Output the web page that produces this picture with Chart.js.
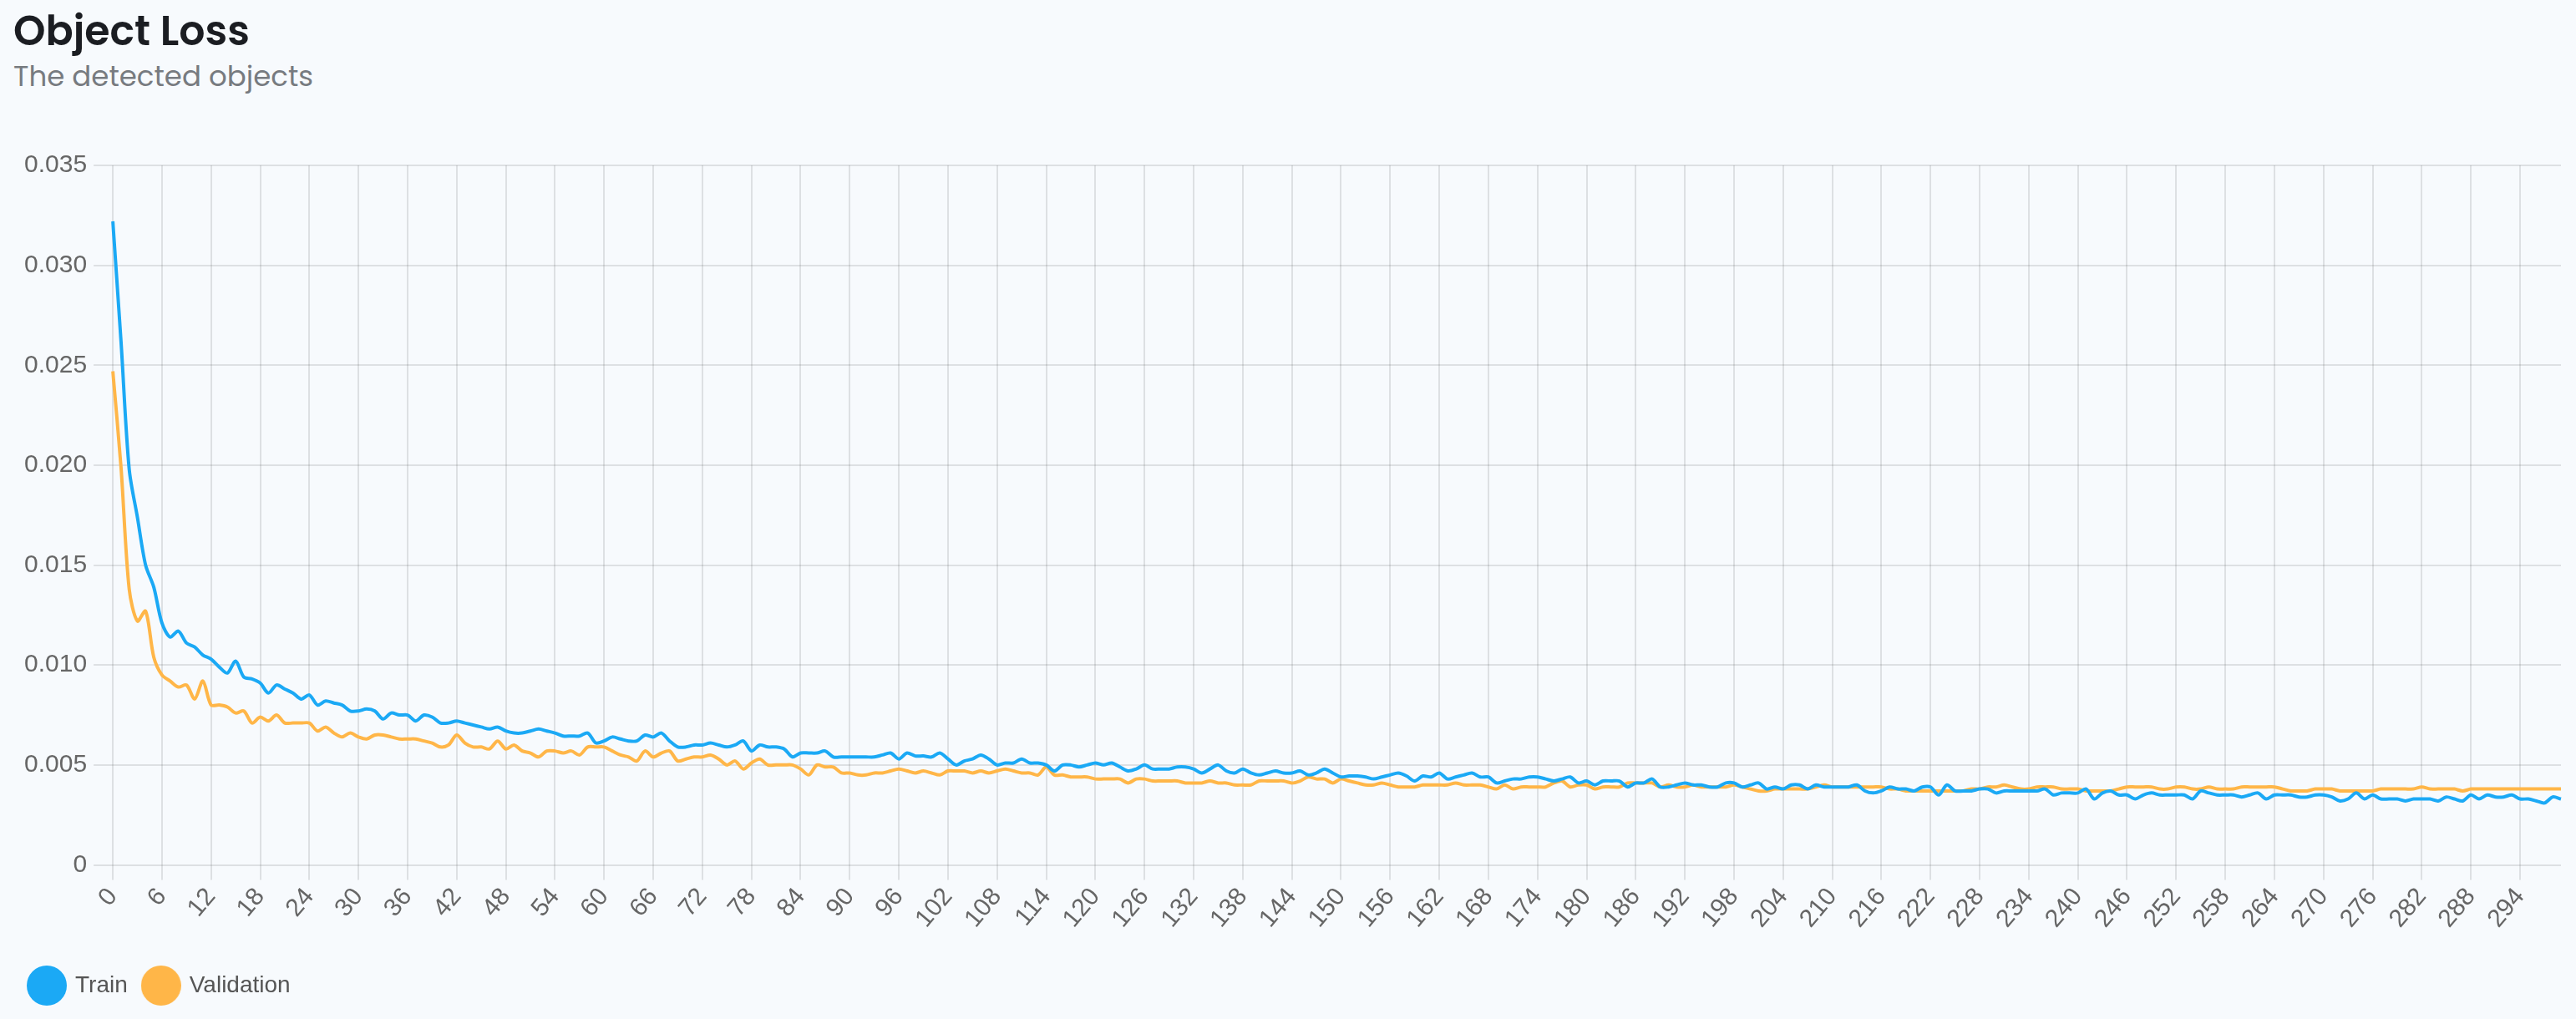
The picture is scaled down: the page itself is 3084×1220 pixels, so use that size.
<!DOCTYPE html>
<html>
<head>
<meta charset="utf-8">
<script src="https://cdn.jsdelivr.net/npm/chart.js@4.4.1/dist/chart.umd.min.js"></script>
<style>
  html, body { margin: 0; padding: 0; background: #f7fafd; }
  #head { position: absolute; left: 16px; top: 5px; font-family: 'Poppins', 'Inter', sans-serif; }
  #title { font-size: 49px; font-weight: 600; color: #1b1d22; line-height: 64px; }
  #subtitle { font-size: 34px; font-weight: 400; color: #777b80; line-height: 44px; }
  #wrap { position: absolute; left: 0; top: 0; width: 3084px; height: 1220px; }
</style>
</head>
<body>
<div id="head">
  <div id="title">Object Loss</div>
  <div id="subtitle">The detected objects</div>
</div>
<div id="wrap"><canvas id="my-chart"></canvas></div>
<script>
const trainLoss = [
  0.0322, 0.0262, 0.0198, 0.0174, 0.0150, 0.0139, 0.0121, 0.0114, 0.0117, 0.0111,
  0.0109, 0.0105, 0.0103, 0.0099, 0.0096, 0.0102, 0.0094, 0.0093, 0.0091, 0.0086,
  0.0090, 0.0088, 0.0086, 0.0083, 0.0085, 0.0080, 0.0082, 0.0081, 0.0080, 0.0077,
  0.0077, 0.0078, 0.0077, 0.0073, 0.0076, 0.0075, 0.0075, 0.0072, 0.0075, 0.0074,
  0.0071, 0.0071, 0.0072, 0.0071, 0.0070, 0.0069, 0.0068, 0.0069, 0.0067, 0.0066,
  0.0066, 0.0067, 0.0068, 0.0067, 0.0066, 0.00645, 0.00645, 0.00645, 0.0066, 0.0061,
  0.0062, 0.0064, 0.0063, 0.0062, 0.0062, 0.0065, 0.0064, 0.0066, 0.0062, 0.0059,
  0.0059, 0.0060, 0.0060, 0.0061, 0.0060, 0.0059, 0.0060, 0.0062, 0.0057, 0.0060,
  0.0059, 0.0059, 0.0058, 0.0054, 0.0056, 0.0056, 0.0056, 0.0057, 0.0054, 0.0054,
  0.0054, 0.0054, 0.0054, 0.0054, 0.0055, 0.0056, 0.0053, 0.0056, 0.00545, 0.00545,
  0.0054, 0.0056, 0.0053, 0.0050, 0.0052, 0.0053, 0.0055, 0.0053, 0.0050, 0.0051,
  0.0051, 0.0053, 0.0051, 0.0051, 0.0050, 0.0047, 0.0050, 0.0050, 0.0049, 0.0050,
  0.0051, 0.0050, 0.0051, 0.0049, 0.0047, 0.0048, 0.0050, 0.0048, 0.0048, 0.0048,
  0.0049, 0.0049, 0.0048, 0.0046, 0.0048, 0.0050, 0.0047, 0.0046, 0.0048, 0.0046,
  0.0045, 0.0046, 0.0047, 0.0046, 0.0046, 0.0047, 0.0045, 0.0046, 0.0048, 0.0046,
  0.0044, 0.00445, 0.00445, 0.0044, 0.0043, 0.0044, 0.0045, 0.0046, 0.00445, 0.0042,
  0.00445, 0.0044, 0.0046, 0.0043, 0.0044, 0.0045, 0.0046, 0.0044, 0.0044, 0.0041,
  0.0042, 0.0043, 0.0043, 0.0044, 0.0044, 0.0043, 0.0042, 0.0043, 0.0044, 0.0041,
  0.0042, 0.0040, 0.0042, 0.0042, 0.0042, 0.0039, 0.0041, 0.0041, 0.0043, 0.0039,
  0.0039, 0.0040, 0.0041, 0.0040, 0.0040, 0.0039, 0.0039, 0.0041, 0.0041, 0.0039,
  0.0040, 0.0041, 0.0038, 0.0039, 0.0038, 0.0040, 0.0040, 0.0038, 0.0040, 0.0039,
  0.0039, 0.0039, 0.0039, 0.0040, 0.0037, 0.0036, 0.0037, 0.0039, 0.0038, 0.0038,
  0.0037, 0.0039, 0.0039, 0.0035, 0.0040, 0.0037, 0.0037, 0.0037, 0.0038, 0.0038,
  0.0036, 0.0037, 0.0037, 0.0037, 0.0037, 0.0037, 0.0038, 0.0035, 0.0036, 0.0036,
  0.0036, 0.0038, 0.0033, 0.0036, 0.0037, 0.0035, 0.0035, 0.0033, 0.0035, 0.0036,
  0.0035, 0.0035, 0.0035, 0.0035, 0.0033, 0.0037, 0.0036, 0.0035, 0.0035, 0.0035,
  0.0034, 0.0035, 0.0036, 0.0033, 0.0035, 0.0035, 0.0035, 0.0034, 0.0034, 0.0035,
  0.0035, 0.0034, 0.0032, 0.0033, 0.0036, 0.0033, 0.0035, 0.0033, 0.0033, 0.0033,
  0.0032, 0.0033, 0.0033, 0.0033, 0.0032, 0.0034, 0.0033, 0.0032, 0.0035, 0.0033,
  0.0035, 0.0034, 0.0034, 0.0035, 0.0033, 0.0033, 0.0032, 0.0031, 0.0034, 0.0033
];

const valLoss = [
  0.0247, 0.0199, 0.0138, 0.0122, 0.0127, 0.0104, 0.0095, 0.0092, 0.0089, 0.0090,
  0.0083, 0.0092, 0.0080, 0.0080, 0.0079, 0.0076, 0.0077, 0.0071, 0.0074, 0.0072,
  0.0075, 0.0071, 0.0071, 0.0071, 0.0071, 0.0067, 0.0069, 0.0066, 0.0064, 0.0066,
  0.0064, 0.0063, 0.0065, 0.0065, 0.0064, 0.0063, 0.0063, 0.0063, 0.0062, 0.0061,
  0.0059, 0.0060, 0.0065, 0.0061, 0.0059, 0.0059, 0.0058, 0.0062, 0.0058, 0.0060,
  0.0057, 0.0056, 0.0054, 0.0057, 0.0057, 0.0056, 0.0057, 0.0055, 0.0059, 0.0059,
  0.0059, 0.0057, 0.0055, 0.0054, 0.0052, 0.0057, 0.0054, 0.0056, 0.0057, 0.0052,
  0.0053, 0.0054, 0.0054, 0.0055, 0.0053, 0.0050, 0.0052, 0.0048, 0.0051, 0.0053,
  0.0050, 0.0050, 0.0050, 0.0050, 0.0048, 0.0045, 0.0050, 0.0049, 0.0049, 0.0046,
  0.0046, 0.0045, 0.0045, 0.0046, 0.0046, 0.0047, 0.0048, 0.0047, 0.0046, 0.0047,
  0.0046, 0.0045, 0.0047, 0.0047, 0.0047, 0.0046, 0.0047, 0.0046, 0.0047, 0.0048,
  0.0047, 0.0046, 0.0046, 0.0045, 0.0049, 0.0045, 0.0045, 0.0044, 0.0044, 0.0044,
  0.0043, 0.0043, 0.0043, 0.0043, 0.0041, 0.0043, 0.0043, 0.0042, 0.0042, 0.0042,
  0.0042, 0.0041, 0.0041, 0.0041, 0.0042, 0.0041, 0.0041, 0.0040, 0.0040, 0.0040,
  0.0042, 0.0042, 0.0042, 0.0042, 0.0041, 0.0042, 0.0044, 0.0043, 0.0043, 0.0041,
  0.0043, 0.0042, 0.0041, 0.0040, 0.0040, 0.0041, 0.0040, 0.0039, 0.0039, 0.0039,
  0.0040, 0.0040, 0.0040, 0.0040, 0.0041, 0.0040, 0.0040, 0.0040, 0.0039, 0.0038,
  0.0040, 0.0038, 0.0039, 0.0039, 0.0039, 0.0039, 0.0041, 0.0042, 0.0039, 0.0040,
  0.0040, 0.0038, 0.0039, 0.0039, 0.0039, 0.0041, 0.0041, 0.0041, 0.0041, 0.0039,
  0.0040, 0.0039, 0.0039, 0.0040, 0.0039, 0.0039, 0.0039, 0.0039, 0.0040, 0.0039,
  0.0038, 0.0037, 0.0037, 0.0038, 0.0038, 0.0038, 0.0038, 0.0038, 0.0039, 0.0040,
  0.0039, 0.0039, 0.0039, 0.0039, 0.0039, 0.0039, 0.0039, 0.0038, 0.0038, 0.0037,
  0.0037, 0.0037, 0.0037, 0.0037, 0.0037, 0.0037, 0.0037, 0.0038, 0.0038, 0.0039,
  0.0039, 0.0040, 0.0039, 0.0038, 0.0038, 0.0039, 0.0039, 0.0039, 0.0038, 0.0038,
  0.0038, 0.0037, 0.0037, 0.0037, 0.0037, 0.0038, 0.0039, 0.0039, 0.0039, 0.0039,
  0.0038, 0.0038, 0.0039, 0.0039, 0.0038, 0.0038, 0.0039, 0.0038, 0.0038, 0.0038,
  0.0039, 0.0039, 0.0039, 0.0039, 0.0039, 0.0038, 0.0037, 0.0037, 0.0037, 0.0038,
  0.0038, 0.0038, 0.0037, 0.0037, 0.0037, 0.0037, 0.0037, 0.0038, 0.0038, 0.0038,
  0.0038, 0.0038, 0.0039, 0.0038, 0.0038, 0.0038, 0.0038, 0.0037, 0.0038, 0.0038,
  0.0038, 0.0038, 0.0038, 0.0038, 0.0038, 0.0038, 0.0038, 0.0038, 0.0038, 0.0038
];

// one label per epoch, 0..299
const epochs = trainLoss.map((v, i) => i);
const labelEvery = 6;
const yMax = 0.035;
const yStep = 0.005;

const trainColor = '#1ba9f5';
const valColor = '#ffb648';

// round legend markers, bigger than the font size allows
function legendDot(color) {
    const c = document.createElement('canvas');
    c.width = 48;
    c.height = 48;
    const g = c.getContext('2d');
    g.fillStyle = color;
    g.beginPath();
    g.arc(24, 24, 24, 0, Math.PI * 2);
    g.fill();
    return c;
}

const tickFont = { family: "'Liberation Sans', Arial, sans-serif", size: 30 };
const legendFont = { family: "'Liberation Sans', Arial, sans-serif", size: 28 };

const ctx = document.getElementById('my-chart').getContext('2d');
new Chart(ctx, {
    type: 'line',
    data: {
        labels: epochs,
        datasets: [{
            label: 'Train',
            data: trainLoss,
            borderColor: trainColor,
            backgroundColor: trainColor,
            borderWidth: 4,
            pointRadius: 0,
            pointStyle: legendDot(trainColor),
            tension: 0.3
        }, {
            label: 'Validation',
            data: valLoss,
            borderColor: valColor,
            backgroundColor: valColor,
            borderWidth: 4,
            pointRadius: 0,
            pointStyle: legendDot(valColor),
            tension: 0.3
        }]
    },
    options: {
        responsive: true,
        maintainAspectRatio: false,
        animation: false,
        layout: { padding: { top: 198, left: 16, right: 18, bottom: 16 } },
        plugins: {
            legend: {
                position: 'bottom',
                align: 'start',
                labels: {
                    usePointStyle: true,
                    pointStyleWidth: 40,
                    color: '#555',
                    font: legendFont,
                    padding: 20
                }
            },
            tooltip: { enabled: false }
        },
        scales: {
            x: {
                grid: { color: 'rgba(0,0,0,0.1)', lineWidth: 2, tickLength: 18 },
                border: { display: false },
                afterFit: function (scale) { scale.height += 25; },
                ticks: {
                    autoSkip: false,
                    minRotation: 50,
                    maxRotation: 50,
                    color: '#666',
                    font: tickFont,
                    padding: 3,
                    callback: function (value, index) {
                        return index % labelEvery === 0 ? this.getLabelForValue(value) : null;
                    }
                }
            },
            y: {
                min: 0,
                max: yMax,
                grid: { color: 'rgba(0,0,0,0.1)', lineWidth: 2, tickLength: 23 },
                border: { display: false },
                afterFit: function (scale) { scale.width += 5; },
                ticks: {
                    stepSize: yStep,
                    color: '#666',
                    font: tickFont,
                    padding: 8
                }
            }
        }
    }
});
</script>
</body>
</html>
